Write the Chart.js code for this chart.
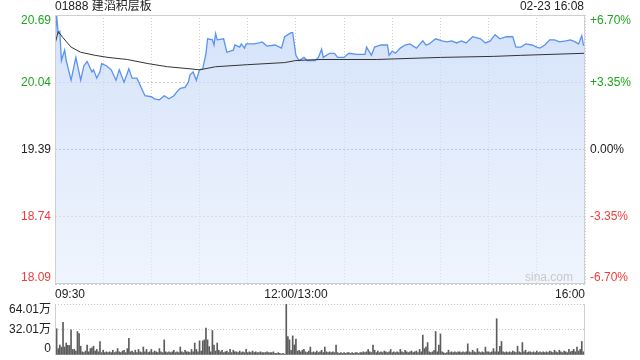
<!DOCTYPE html>
<html>
<head>
<meta charset="utf-8">
<script src="https://cdn.jsdelivr.net/npm/chart.js@4"></script>
<style>
  body { margin: 0; background: #fff; }
  #wrap { position: relative; width: 640px; height: 360px; }
  #priceBox { position: absolute; left: 0; top: 0; width: 640px; height: 300px; }
  #volBox { position: absolute; left: 0; top: 298px; width: 640px; height: 62px; }
</style>
</head>
<body>
<div id="wrap">
  <div id="priceBox"><canvas id="priceChart"></canvas></div>
  <div id="volBox"><canvas id="volChart"></canvas></div>
</div>
<script>
const title = "01888 建滔积层板";
const stamp = "02-23 16:08";
const prevClose = 19.39;
const priceTicks = [20.69, 20.04, 19.39, 18.74, 18.09];
const pctLabels = ["+6.70%", "+3.35%", "0.00%", "-3.35%", "-6.70%"];
const timeLabels = { 0: "09:30", 150: "12:00/13:00", 330: "16:00" };

// minutes since open (lunch removed) -> price
const priceMinutes = [0,1,2,3,4,6,7,10,13,16,18,20,23,24,26,28,29,32,35,38,40,43,46,48,51,53,56,60,62,65,68,71,74,76,78,81,83,84,86,88,90,92,94,95,98,99,100,101,105,107,111,112,115,116,118,119,124,127,129,132,137,141,143,147,148,150,152,155,157,159,162,164,166,167,171,174,176,180,183,188,193,194,197,199,203,207,208,210,212,215,218,221,225,229,231,233,237,241,244,247,250,253,256,260,265,268,271,274,277,281,285,287,290,293,297,300,302,305,308,311,314,318,321,324,326,328,329,330];
const priceValues = [20.42,20.69,20.51,20.53,20.25,20.35,20.25,20.06,20.28,20.06,20.20,20.24,20.14,20.16,20.08,20.14,20.22,20.20,20.16,20.06,20.16,20.04,20.17,20.08,20.08,20.01,19.91,19.90,19.88,19.87,19.91,19.88,19.91,19.95,19.98,19.99,20.04,20.11,20.14,20.06,20.16,20.17,20.32,20.46,20.45,20.40,20.51,20.45,20.46,20.33,20.35,20.40,20.38,20.41,20.37,20.41,20.41,20.42,20.43,20.39,20.40,20.37,20.48,20.52,20.52,20.30,20.25,20.28,20.25,20.25,20.25,20.28,20.36,20.28,20.32,20.32,20.28,20.28,20.32,20.31,20.31,20.38,20.30,20.38,20.40,20.40,20.30,20.34,20.32,20.37,20.40,20.41,20.37,20.44,20.40,20.41,20.46,20.44,20.43,20.44,20.42,20.44,20.42,20.48,20.46,20.42,20.44,20.50,20.46,20.48,20.48,20.38,20.38,20.41,20.40,20.38,20.37,20.40,20.45,20.45,20.43,20.44,20.45,20.43,20.41,20.49,20.40,20.40];

const avgMinutes = [0,2,5,10,16,25,33,45,58,70,84,90,100,120,143,150,165,200,240,273,290,330];
const avgValues = [20.41,20.53,20.47,20.38,20.33,20.30,20.28,20.26,20.22,20.19,20.17,20.16,20.19,20.21,20.23,20.25,20.26,20.26,20.28,20.29,20.30,20.32];

// volume per minute, in 万
const volTicks = [64.01, 32.01, 0];
const volLabels = ["64.01万", "32.01万", "0"];
const volumes = [
  42,33,8,12.6,10,41,10,15,12,12,
  31.6,7,7,5,29.5,27,11,4,3,5,
  12.6,4,8,9,11,5,7,4,17,3,
  6,3,4,3,4,3,6,3,4,8,
  4,3,5,6,3,8,21,4,5,3,
  6,3,7,4,3,10,4,7,3,4,
  7,3,5,4,3,8,4,3,19,4,
  3,4,3,4,6,3,4,3,10,4,
  3,6,4,4,3,7,4,15,7,4,
  17.7,5,17.7,19,33.7,19,10.5,4,30.7,12.6,
  5,15,6,4,6,3,4,5,3,7,
  3,6,4,4,3,5,3,4,3,7,
  3,4,3,5,3,4,3,3,4,3,
  3,3,4,3,3,3,4,2,2,3,
  2,1.3,2,1,64,23,19,6,24,12.6,
  20,5,6,4,6,7,4,3,5,10,
  3,4,3,5,3,4,6,3,10,4,
  3,4,3,4,3,12.6,3,2,3,2,
  3,2,3,3,2,3,2,3,3,2,
  3,3,4,3,4,7,4,3,12.6,6,
  3,5,3,4,3,5,4,3,4,7,
  3,4,3,4,3,7,4,3,6,4,
  3,4,5,3,4,5,3,7,4,25,
  8,10,15.6,4,3,4,6,29.5,4,12.6,
  26.5,4,3,2,3,6,3,4,3,4,
  3,4,4,3,4,3,4,14,4,3,
  6,4,3,8,4,3,4,3,10,4,
  4,3,4,8,4,45.5,4,11,17,4,
  3,4,3,4,3,5,4,3,11,4,
  3,15.6,4,6,3,4,4,3,4,3,
  5,3,4,3,4,3,4,3,5,4,
  3,6,4,3,6,4,3,5,4,3,
  7,4,5,7,4,10,5,7,17,4,
  46
];

const FONT = '"Liberation Sans", Arial, "Noto Sans CJK SC", sans-serif';
const GREEN = "#1ea51e";
const RED = "#f03c3c";
const TEXT = "#222";
const colorFor = (v) => (v > prevClose ? GREEN : v < prevClose ? RED : TEXT);

const fixedWidth = (w) => (scale) => { scale.width = w; };

// main price chart
const pricePlugin = {
  id: "priceDecor",
  afterDraw(chart) {
    const { ctx, chartArea: a, scales } = chart;
    ctx.save();
    ctx.strokeStyle = "#cfcfcf";
    ctx.lineWidth = 1;
    ctx.strokeRect(a.left + 0.5, a.top + 0.5, a.width - 1, a.height - 1);
    ctx.font = "12px " + FONT;
    ctx.textBaseline = "middle";
    priceTicks.forEach((v, i) => {
      let y = scales.y.getPixelForValue(v);
      y = Math.min(Math.max(y, a.top + 6), a.bottom - 6);
      ctx.fillStyle = colorFor(v);
      ctx.textAlign = "right";
      ctx.fillText(v.toFixed(2), a.left - 4, y);
      ctx.textAlign = "left";
      ctx.fillText(pctLabels[i], a.right + 5, y);
    });
    ctx.fillStyle = TEXT;
    ctx.textAlign = "left";
    ctx.fillText(title, a.left, 7);
    ctx.textAlign = "right";
    ctx.fillText(stamp, a.right - 1, 7);
    ctx.fillStyle = "#c9c9c9";
    ctx.fillText("sina.com", a.right - 12, a.bottom - 6);
    ctx.restore();
  },
};

new Chart(document.getElementById("priceChart"), {
  type: "line",
  data: {
    datasets: [
      {
        label: "avg",
        data: avgMinutes.map((m, i) => ({ x: m, y: avgValues[i] })),
        borderColor: "#333",
        borderWidth: 1,
        pointRadius: 0,
        fill: false,
      },
      {
        label: "price",
        data: priceMinutes.map((m, i) => ({ x: m, y: priceValues[i] })),
        borderColor: "#5a93f0",
        borderWidth: 1.3,
        pointRadius: 0,
        fill: "start",
        backgroundColor: (c) => {
          const a = c.chart.chartArea;
          if (!a) return "rgba(210,225,250,0.7)";
          const g = c.chart.ctx.createLinearGradient(0, a.top, 0, a.bottom);
          g.addColorStop(0, "rgba(198,216,248,0.75)");
          g.addColorStop(1, "rgba(226,236,252,0.55)");
          return g;
        },
      },
    ],
  },
  options: {
    responsive: true,
    maintainAspectRatio: false,
    animation: false,
    layout: { padding: { top: 15, left: 0, right: 0, bottom: 0 } },
    plugins: { legend: { display: false }, tooltip: { enabled: false } },
    scales: {
      x: {
        type: "linear",
        min: 0,
        max: 330,
        afterFit: (s) => { s.height = 16; },
        ticks: {
          stepSize: 30,
          autoSkip: false,
          maxRotation: 0,
          align: "inner",
          padding: 3,
          color: TEXT,
          font: { size: 12, family: FONT },
          callback: (v) => timeLabels[v] || "",
        },
        grid: { color: "#d0d0d0", drawTicks: false },
        border: { display: false, dash: [1, 2] },
      },
      y: {
        type: "linear",
        position: "left",
        min: 18.09,
        max: 20.69,
        afterFit: fixedWidth(55),
        afterBuildTicks: (s) => { s.ticks = priceTicks.map((v) => ({ value: v })); },
        ticks: { display: false },
        grid: {
          drawTicks: false,
          color: (c) => (c.tick && c.tick.value === prevClose ? "#999" : "#cfcfcf"),
        },
        border: { display: false, dash: [2, 2] },
      },
      y2: {
        type: "linear",
        position: "right",
        min: -6.7,
        max: 6.7,
        afterFit: fixedWidth(55),
        ticks: { display: false },
        grid: { display: false },
        border: { display: false },
      },
    },
  },
  plugins: [pricePlugin],
});

// volume chart
const volPlugin = {
  id: "volDecor",
  afterDraw(chart) {
    const { ctx, chartArea: a, scales } = chart;
    ctx.save();
    ctx.strokeStyle = "#cfcfcf";
    ctx.lineWidth = 1;
    ctx.beginPath();
    ctx.moveTo(a.left + 0.5, a.top);
    ctx.lineTo(a.left + 0.5, a.bottom);
    ctx.moveTo(a.right - 0.5, a.top);
    ctx.lineTo(a.right - 0.5, a.bottom);
    ctx.stroke();
    ctx.font = "12px " + FONT;
    ctx.textBaseline = "middle";
    ctx.textAlign = "right";
    ctx.fillStyle = TEXT;
    volTicks.forEach((v, i) => {
      let y = scales.y.getPixelForValue(v);
      y = Math.min(Math.max(y, a.top + 6), a.bottom - 6);
      ctx.fillText(volLabels[i], a.left - 4, y);
    });
    ctx.restore();
  },
};

new Chart(document.getElementById("volChart"), {
  type: "bar",
  data: {
    datasets: [
      {
        label: "volume",
        data: volumes.map((v, i) => ({ x: i, y: v })),
        backgroundColor: "#5c5c5c",
        barThickness: 1,
      },
    ],
  },
  options: {
    responsive: true,
    maintainAspectRatio: false,
    animation: false,
    layout: { padding: { top: 6, left: 0, right: 55, bottom: 5 } },
    plugins: { legend: { display: false }, tooltip: { enabled: false } },
    scales: {
      x: {
        type: "linear",
        min: 0,
        max: 330,
        offset: false,
        display: false,
      },
      y: {
        min: 0,
        max: 64.01,
        afterFit: fixedWidth(55),
        afterBuildTicks: (s) => { s.ticks = volTicks.map((v) => ({ value: v })); },
        ticks: { display: false },
        grid: {
          drawTicks: false,
          color: (c) => (c.tick && c.tick.value > 0 ? "#c8c8c8" : "rgba(0,0,0,0)"),
        },
        border: { display: false, dash: [1, 2] },
      },
    },
  },
  plugins: [volPlugin],
});
</script>
</body>
</html>
